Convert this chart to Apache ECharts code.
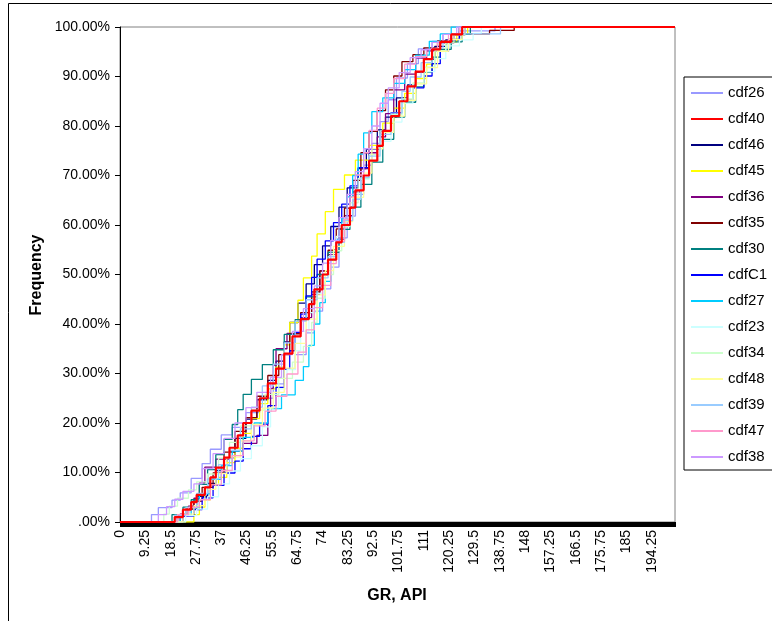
<!DOCTYPE html>
<html>
<head>
<meta charset="utf-8">
<script src="https://cdn.jsdelivr.net/npm/echarts@6/dist/echarts.min.js"></script>
<style>html,body{margin:0;padding:0;background:#fff;}#chart{width:772px;height:621px;}</style>
</head>
<body>
<div id="chart"></div>
<script>
const seriesNames = ['cdf26','cdf40','cdf46','cdf45','cdf36','cdf35','cdf30','cdfC1','cdf27','cdf23','cdf34','cdf48','cdf39','cdf47','cdf38'];
const seriesColors = ['#9999FF','#FF0000','#000080','#FFFF00','#800080','#800000','#008080','#0000FF','#00CCFF','#CCFFFF','#CCFFCC','#FFFF99','#99CCFF','#FF99CC','#CC99FF'];
const xTickLabels = ['0','9.25','18.5','27.75','37','46.25','55.5','64.75','74','83.25','92.5','101.75','111','120.25','129.5','138.75','148','157.25','166.5','175.75','185','194.25'];
const yTickLabels = ['.00%','10.00%','20.00%','30.00%','40.00%','50.00%','60.00%','70.00%','80.00%','90.00%','100.00%'];

const cdf26 = [[0,0],[11.5,1.5],[14,2.9],[19,4.4],[22,5.9],[26,8.8],[30,11.8],[33,14.7],[37,17.6],[41,19.1],[46,22.1],[51,25],[56,27.9],[60,30.9],[64,33.8],[68,38.2],[71,42.6],[74,47.1],[77,51.5],[80,57.4],[83,61.8],[86,66.2],[89,72.1],[92,76.5],[95,80.9],[98,85.3],[101,89.7],[105,92.6],[109,95.6],[114,97.1],[118,98.5],[124,99.2],[137,100],[202.75,100]];
const cdf40 = [[0,0],[20,1],[23,2.5],[26,4],[28,5.5],[31,7],[33,9],[35,11],[38,13],[40,15],[43,17.5],[45,20],[48,22.5],[51,25],[54,28],[57,31],[60,34],[63,37.5],[66,41],[69,44],[71,47],[74,50],[76,53],[79,56.5],[81,60],[84,63.5],[86,67],[89,70],[91,73],[94,76],[96,79],[99,82],[102,85],[105,88],[108,91],[111,93.5],[114,95.5],[117,97],[121,98.5],[125,100],[202.75,100]];
const cdf46 = [[0,0],[21,1.3],[25,2.6],[28,5.2],[32,7.8],[35,10.4],[39,13],[42,16.9],[46,20.8],[50,24.7],[54,28.6],[57,32.5],[60,36.4],[62,40.3],[65,44.2],[68,48.1],[71,52],[74,55.8],[77,59.7],[80,63.6],[83,67.5],[87,71.4],[90,75.3],[94,79.2],[97,81.8],[101,85.7],[105,88.3],[108,90.9],[111,93.5],[115,96.1],[119,97.4],[124,100],[202.75,100]];
const cdf45 = [[0,0],[27,1.5],[29,3],[31,4.5],[33,7.5],[36,9],[39,12],[42,14.9],[45,17.9],[48,20.9],[51,23.9],[54,26.9],[57,31.3],[60,35.8],[62,40.3],[65,44.8],[67,49.3],[70,53.7],[72,58.2],[75,62.7],[78,67.2],[82,70.1],[86,73.1],[91,76.1],[96,80.6],[100,83.6],[104,86.6],[108,89.6],[112,92.5],[115,95.5],[119,97],[123,98.5],[127,100],[202.75,100]];
const cdf36 = [[0,0],[22,1.6],[25,3.2],[27,4.8],[29,7.9],[31,11.1],[35,12.7],[40,14.3],[45,15.9],[50,17.5],[54,22.2],[55,27],[56,31.7],[57,35],[61,38.1],[66,41.3],[70,46],[73,50.8],[76,54],[79,57.1],[82,61.9],[85,66.7],[88,71.4],[91,74.6],[94,77.8],[97,82.5],[100,87.3],[104,90.5],[108,93.7],[112,95.2],[117,96.8],[122,98.4],[126,100],[202.75,100]];
const cdf35 = [[0,0],[21,1.4],[24,2.8],[27,4.2],[30,7],[34,9.9],[38,14.1],[42,18.3],[46,21.1],[50,25.4],[54,29.6],[58,33.8],[62,38],[66,42.3],[70,46.5],[73,50.7],[76,54.9],[79,59.2],[82,63.4],[85,69],[88,74.6],[91,78.9],[94,83.1],[97,87.3],[100,90.1],[103,93],[107,94.4],[111,95.8],[116,97.2],[121,98.6],[135,99.3],[144,100],[202.75,100]];
const cdf30 = [[0,0],[19,1.5],[23,3],[26,4.5],[29,7.6],[32,10.6],[35,13.6],[38,16.7],[41,19.7],[43,22.7],[45,25.8],[48,28.8],[52,31.8],[56,34.8],[60,37.9],[64,40.9],[68,45.5],[72,50],[76,54.5],[80,59.1],[84,63.6],[88,68.2],[92,72.7],[96,77.3],[100,81.8],[104,84.8],[108,87.9],[111,90.9],[114,93.9],[117,95.5],[121,97],[125,98.5],[128,100],[202.75,100]];
const cdfC1 = [[0,0],[23,1.2],[27,2.5],[30,4.9],[34,7.4],[38,9.9],[42,12.3],[45,14.8],[48,17.3],[51,19.8],[54,23.5],[57,27.2],[60,30.9],[62,34.6],[64,38.3],[66,42],[68,45.7],[70,49.4],[72,53.1],[75,56.8],[78,60.5],[81,64.2],[84,67.9],[87,71.6],[91,75.3],[95,79],[99,82.7],[103,85.2],[107,87.7],[111,90.1],[114,92.6],[117,95.1],[120,97.5],[124,100],[202.75,100]];
const cdf27 = [[0,0],[22,1.4],[26,2.9],[29,5.7],[33,8.6],[37,11.4],[41,14.3],[45,17.1],[49,20],[54,22.9],[59,25.7],[64,28.6],[67,31.4],[69,35.7],[71,40],[73,44.3],[75,48.6],[77,52.9],[79,57.1],[81,61.4],[83,65.7],[85,70],[87,74.3],[89,78.6],[92,82.9],[96,85.7],[100,88.6],[104,91.4],[108,94.3],[113,97.1],[117,98.6],[121,100],[202.75,100]];
const cdf23 = [[0,0],[24,1.3],[28,2.6],[32,5.1],[36,7.7],[40,10.3],[44,12.8],[48,15.4],[52,19.2],[55,23.1],[58,26.9],[61,30.8],[64,34.6],[66,38.5],[69,42.3],[72,46.2],[74,50],[77,53.8],[79,57.7],[82,61.5],[85,65.4],[88,69.2],[91,73.1],[95,76.9],[99,80.8],[103,84.6],[107,88.5],[111,91],[115,93.6],[119,96.2],[124,97.4],[129,98.7],[132,100],[202.75,100]];
const cdf34 = [[0,0],[16,1.6],[18,3.2],[21,4.8],[25,6.5],[28,8.1],[32,9.7],[36,12.9],[40,16.1],[44,19.4],[48,22.6],[53,25.8],[58,29],[63,32.3],[67,35.5],[70,40.3],[72,45.2],[75,50],[78,54.8],[81,59.7],[84,64.5],[87,69.4],[91,74.2],[95,79],[99,82.3],[103,85.5],[107,88.7],[111,91.9],[115,95.2],[119,96.8],[122,98.4],[126,100],[202.75,100]];
const cdf48 = [[0,0],[23,1.6],[27,3.3],[31,6.6],[35,9.8],[39,13.1],[44,16.4],[48,19.7],[52,23],[56,26.2],[60,31.1],[64,36.1],[68,41],[72,45.9],[75,50.8],[78,55.7],[82,60.7],[85,65.6],[89,70.5],[92,75.4],[96,78.7],[100,82],[104,85.2],[108,88.5],[112,91.8],[116,95.1],[120,97.5],[125,100],[202.75,100]];
const cdf39 = [[0,0],[20,1.4],[24,2.9],[28,5.8],[32,8.7],[36,11.6],[40,14.5],[44,18.8],[48,23.2],[52,27.5],[56,31.9],[60,36.2],[64,40.6],[68,44.9],[72,49.3],[76,53.6],[79,56.5],[82,60.9],[85,65.2],[88,69.6],[91,73.9],[95,78.3],[99,82.6],[103,87],[106,89.9],[110,92.8],[114,95.7],[118,97.1],[121,98.6],[139,100],[202.75,100]];
const cdf47 = [[0,0],[21,1.5],[25,3],[29,4.5],[33,7.5],[37,10.4],[41,13.4],[45,16.4],[49,19.4],[53,22.4],[57,25.4],[61,29.9],[65,34.3],[68,38.8],[71,43.3],[74,47.8],[77,52.2],[79,56.7],[82,61.2],[84,65.7],[86,70.1],[89,74.6],[91,79.1],[94,83.6],[97,86.6],[100,89.6],[104,92.5],[108,94],[112,95.5],[116,97],[120,98.5],[124,100],[202.75,100]];
const cdf38 = [[0,0],[14,1.5],[17,3.1],[20,4.6],[23,6.2],[27,7.7],[30,10.8],[34,13.8],[38,16.9],[42,20],[46,23.1],[50,26.2],[55,29.2],[59,33.8],[63,38.5],[67,43.1],[71,47.7],[74,52.3],[77,56.9],[80,61.5],[83,66.2],[86,70.8],[89,75.4],[92,80],[95,84.6],[98,87.7],[102,90.8],[106,93.8],[110,95.4],[114,96.9],[118,98.5],[123,100],[202.75,100]];

const seriesData = [cdf26,cdf40,cdf46,cdf45,cdf36,cdf35,cdf30,cdfC1,cdf27,cdf23,cdf34,cdf48,cdf39,cdf47,cdf38];

const FONT = '"Liberation Sans", Arial, sans-serif';
const chart = echarts.init(document.getElementById('chart'), null, {renderer: 'canvas'});

const series = seriesNames.map((name, i) => ({
  name: name,
  type: 'line',
  step: 'end',
  data: seriesData[i],
  symbol: 'none',
  showSymbol: false,
  z: name === 'cdf40' ? 5 : 2,
  lineStyle: {color: seriesColors[i], width: name === 'cdf40' ? 2.2 : 1.3},
  itemStyle: {color: seriesColors[i]},
  emphasis: {disabled: true}
}));

chart.setOption({
  animation: false,
  backgroundColor: '#fff',
  textStyle: {fontFamily: FONT},
  grid: {left: 120, right: 97, top: 27, bottom: 99, show: true, borderColor: '#808080', borderWidth: 1},
  graphic: [
    {type: 'rect', z: -1, shape: {x: 8.5, y: 3.5, width: 900, height: 800}, style: {fill: 'none', stroke: '#000', lineWidth: 1}},
    {type: 'text', x: 37, y: 275, rotation: Math.PI / 2, style: {text: 'Frequency', font: 'bold 16px ' + FONT, fill: '#000', align: 'center', verticalAlign: 'middle'}},
    {type: 'text', x: 397, y: 596, style: {text: 'GR, API', font: 'bold 16px ' + FONT, fill: '#000', align: 'center', verticalAlign: 'middle'}}
  ],
  legend: {
    orient: 'vertical', left: 684, top: 77,
    padding: [8, 30, 5, 7],
    icon: 'rect',
    itemWidth: 32, itemHeight: 2, itemGap: 10,
    backgroundColor: '#fff', borderColor: '#000', borderWidth: 1,
    textStyle: {fontSize: 15, color: '#000', lineHeight: 16, fontFamily: FONT},
    data: seriesNames,
    selectedMode: false
  },
  xAxis: {
    type: 'value', min: 0, max: 202.75, interval: 9.25,
    axisLine: {show: true, lineStyle: {color: '#000', width: 1}},
    axisTick: {show: true, length: 5, lineStyle: {color: '#000'}},
    minorTick: {show: true, splitNumber: 30, length: 5, lineStyle: {color: '#000'}},
    splitLine: {show: false},
    axisLabel: {
      rotate: 90, fontSize: 14, color: '#000', margin: 8, showMaxLabel: false,
      formatter: v => { const k = Math.round(v / 9.25); return xTickLabels[k] !== undefined && Math.abs(v - k * 9.25) < 1e-6 ? xTickLabels[k] : ''; }
    }
  },
  yAxis: {
    type: 'value', min: 0, max: 100, interval: 10,
    axisLine: {show: true, lineStyle: {color: '#000', width: 1}},
    axisTick: {show: true, length: 5, lineStyle: {color: '#000'}},
    splitLine: {show: false},
    axisLabel: {fontSize: 14, color: '#000', margin: 10, formatter: v => yTickLabels[Math.round(v / 10)]}
  },
  series: series
});
</script>
</body>
</html>
